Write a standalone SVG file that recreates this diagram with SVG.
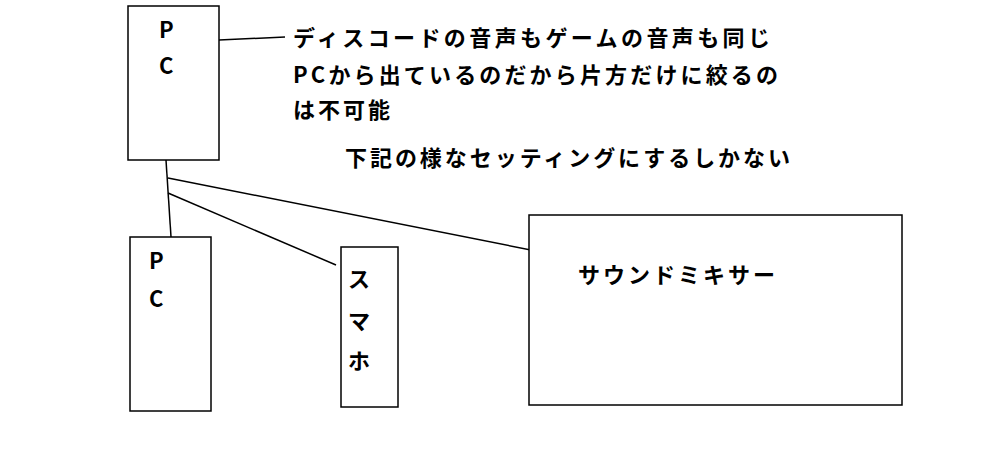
<svg xmlns="http://www.w3.org/2000/svg" width="999" height="468" viewBox="0 0 999 468">
<style>
.b{fill:#fff;stroke:#000;stroke-width:1.5}
.t{font-family:"Noto Sans CJK JP","Noto Sans",sans-serif;font-weight:bold;font-size:22px;fill:#000}
.c{stroke:#000;stroke-width:1.5;fill:none}
</style>
<rect width="999" height="468" fill="#fff"/>
<g id="connectors">
<line class="c" x1="219" y1="40" x2="285" y2="37"/>
<line class="c" x1="166" y1="160" x2="171" y2="237"/>
<line class="c" x1="168" y1="178" x2="546" y2="253"/>
<line class="c" x1="168" y1="193" x2="336" y2="265"/>
</g>
<g id="pc1"><rect class="b" x="128" y="6" width="91" height="154"/>
<text class="t" x="159" y="38">P</text><text class="t" x="159" y="74">C</text></g>
<g id="pc2"><rect class="b" x="130" y="237" width="81" height="174"/>
<text class="t" x="149" y="269">P</text><text class="t" x="149" y="307">C</text></g>
<g id="phone"><rect class="b" x="341" y="247" width="57" height="160"/>
<text class="t" x="348" y="287">ス</text><text class="t" x="348" y="329">マ</text><text class="t" x="348" y="369">ホ</text></g>
<g id="mixer"><rect class="b" x="529" y="215" width="373" height="190"/>
<text class="t" x="578" y="283" textLength="197" lengthAdjust="spacing">サウンドミキサー</text></g>
<g id="note">
<text class="t" x="293" y="46" textLength="477" lengthAdjust="spacing">ディスコードの音声もゲームの音声も同じ</text>
<text class="t" x="293" y="83" textLength="485" lengthAdjust="spacing">PCから出ているのだから片方だけに絞るの</text>
<text class="t" x="293" y="118" textLength="97" lengthAdjust="spacing">は不可能</text>
<text class="t" x="345" y="166" textLength="445" lengthAdjust="spacing">下記の様なセッティングにするしかない</text>
</g>
</svg>
